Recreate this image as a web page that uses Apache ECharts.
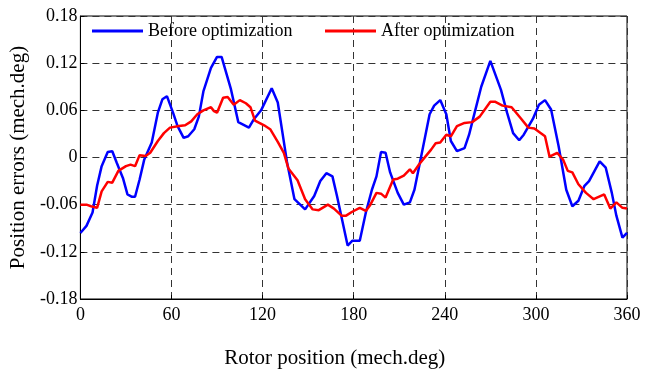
<!DOCTYPE html>
<html>
<head>
<meta charset="utf-8">
<script src="https://cdn.jsdelivr.net/npm/echarts@6/dist/echarts.min.js"></script>
<style>
  html, body { margin: 0; padding: 0; background: #fff; }
  #main { width: 651px; height: 374px; }
</style>
</head>
<body>
<div id="main"></div>
<script>
// rotor position (deg) and position error (mech.deg)
var beforeDeg = [0, 4, 8, 11, 14, 18, 21, 24, 28, 31, 34, 36, 39, 42, 47, 51, 54, 57, 61, 64,
  68, 71, 75, 78, 81, 86, 90, 93, 99, 104, 111, 114, 119, 126, 130, 136, 141, 148, 154, 158,
  162, 166, 169, 176, 179, 184, 188, 192, 195, 198, 201, 204, 209, 213, 217, 220, 224, 230, 233, 237,
  241, 244, 248, 253, 256, 259, 264, 270, 277, 281, 285, 289, 292, 298, 302, 306, 310, 315, 320, 324,
  328, 332, 335, 342, 346, 350, 353, 357, 360];
var beforeErr = [-0.096, -0.087, -0.070, -0.036, -0.011, 0.007, 0.008, -0.007, -0.026, -0.047, -0.050, -0.050, -0.028, -0.003, 0.019, 0.057, 0.074, 0.078, 0.057, 0.040,
  0.025, 0.027, 0.036, 0.052, 0.084, 0.114, 0.128, 0.128, 0.088, 0.045, 0.038, 0.048, 0.060, 0.088, 0.070, -0.005, -0.053, -0.066, -0.049, -0.030,
  -0.020, -0.024, -0.049, -0.112, -0.106, -0.106, -0.070, -0.041, -0.024, 0.007, 0.006, -0.019, -0.045, -0.060, -0.057, -0.041, -0.003, 0.055, 0.066, 0.073,
  0.055, 0.021, 0.008, 0.012, 0.029, 0.052, 0.090, 0.123, 0.086, 0.057, 0.031, 0.022, 0.029, 0.049, 0.067, 0.073, 0.061, 0.014, -0.041, -0.062,
  -0.055, -0.036, -0.030, -0.005, -0.013, -0.045, -0.074, -0.102, -0.096];

var afterDeg = [0, 4, 7, 11, 14, 18, 21, 25, 30, 33, 36, 39, 43, 46, 51, 55, 59, 65, 69, 73,
  77, 81, 86, 88, 90, 94, 97, 101, 105, 109, 112, 115, 121, 125, 130, 134, 137, 143, 148, 153,
  157, 163, 167, 172, 175, 179, 184, 188, 191, 195, 198, 201, 206, 209, 213, 217, 219, 223, 228, 231,
  234, 237, 241, 244, 248, 253, 258, 263, 270, 273, 278, 284, 290, 295, 299, 306, 309, 314, 318, 321,
  324, 328, 333, 338, 345, 349, 353, 357, 360];
var afterErr = [-0.060, -0.060, -0.062, -0.064, -0.043, -0.031, -0.032, -0.017, -0.011, -0.009, -0.011, 0.003, 0.002, 0.006, 0.021, 0.031, 0.038, 0.040, 0.041, 0.046,
  0.055, 0.060, 0.064, 0.059, 0.057, 0.076, 0.077, 0.067, 0.073, 0.069, 0.064, 0.047, 0.041, 0.036, 0.020, 0.006, -0.014, -0.029, -0.053, -0.066,
  -0.067, -0.060, -0.065, -0.074, -0.074, -0.069, -0.064, -0.068, -0.060, -0.045, -0.046, -0.051, -0.028, -0.027, -0.023, -0.015, -0.020, -0.009, 0.003, 0.010,
  0.018, 0.019, 0.029, 0.027, 0.040, 0.044, 0.045, 0.052, 0.071, 0.071, 0.066, 0.064, 0.050, 0.038, 0.037, 0.027, 0.001, 0.006, -0.003, -0.017,
  -0.019, -0.034, -0.045, -0.053, -0.047, -0.065, -0.057, -0.064, -0.065];

function pairs(xs, ys) {
  var out = [];
  for (var i = 0; i < xs.length; i++) out.push([xs[i], ys[i]]);
  return out;
}

var font = '"Liberation Serif", "Times New Roman", serif';
var chart = echarts.init(document.getElementById('main'));

var split = { show: true, lineStyle: { color: '#333', type: [7, 5], width: 1 } };

var option = {
  animation: false,
  grid: {
    left: 80, right: 24, top: 16, bottom: 74,
    show: true, borderColor: '#000', borderWidth: 1
  },
  legend: [{
    data: [{ name: 'Before optimization', icon: 'rect' }],
    left: 92, top: 22, padding: 0,
    itemWidth: 51, itemHeight: 3, itemGap: 5,
    textStyle: { fontFamily: font, fontSize: 18, color: '#000' }
  }, {
    data: [{ name: 'After optimization', icon: 'rect' }],
    left: 325, top: 22, padding: 0,
    itemWidth: 51, itemHeight: 3, itemGap: 5,
    textStyle: { fontFamily: font, fontSize: 18, color: '#000' }
  }],
  xAxis: {
    type: 'value',
    min: 0, max: 360, interval: 60,
    name: 'Rotor position (mech.deg)',
    nameLocation: 'middle', nameGap: 49,
    nameTextStyle: { fontFamily: font, fontSize: 21, color: '#000', padding: [0, 38, 0, 0] },
    axisLine: { onZero: false, lineStyle: { color: '#000', width: 1 } },
    axisTick: { inside: true, length: 4, lineStyle: { color: '#000' } },
    axisLabel: { fontFamily: font, fontSize: 18, color: '#000', margin: 7 },
    splitLine: split
  },
  yAxis: {
    type: 'value',
    min: -0.18, max: 0.18, interval: 0.06,
    name: 'Position errors (mech.deg)',
    nameLocation: 'middle', nameGap: 41,
    nameTextStyle: { fontFamily: font, fontSize: 21, color: '#000' },
    axisLine: { onZero: false, lineStyle: { color: '#000', width: 1 } },
    axisTick: { inside: true, length: 4, lineStyle: { color: '#000' } },
    axisLabel: {
      fontFamily: font, fontSize: 18, color: '#000', margin: 3,
      formatter: function (v) {
        if (Math.abs(v) < 1e-9) return '0';
        return v.toFixed(2);
      }
    },
    splitLine: split
  },
  series: [{
    name: 'Before optimization',
    type: 'line',
    data: pairs(beforeDeg, beforeErr),
    symbol: 'none',
    lineStyle: { color: '#0000ff', width: 2.5 },
    itemStyle: { color: '#0000ff' }
  }, {
    name: 'After optimization',
    type: 'line',
    data: pairs(afterDeg, afterErr),
    symbol: 'none',
    lineStyle: { color: '#ff0000', width: 2.5 },
    itemStyle: { color: '#ff0000' }
  }]
};

chart.setOption(option);
</script>
</body>
</html>
